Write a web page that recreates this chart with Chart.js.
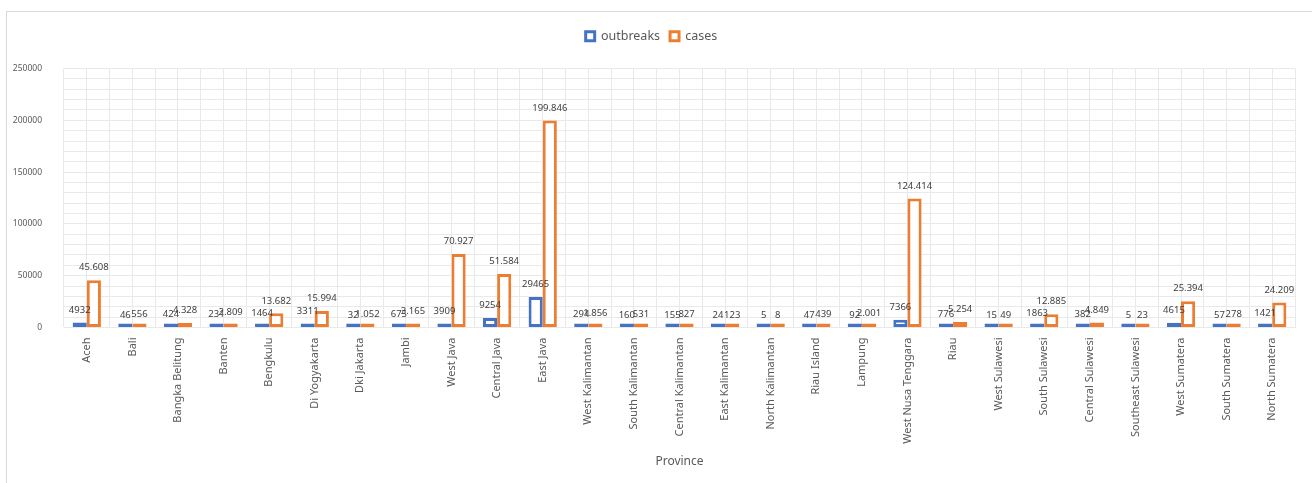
<!DOCTYPE html>
<html>
<head>
<meta charset="utf-8">
<script src="https://cdn.jsdelivr.net/npm/chart.js@4.4.1/dist/chart.umd.min.js"></script>
<style>
  body { margin: 0; background: #fff; }
  #frame { position: absolute; left: 6px; top: 11px; width: 1320px; height: 490px; border: 1px solid #d9d9d9; }
  #wrap { position: absolute; left: 0; top: 0; width: 1312px; height: 483px; }
</style>
</head>
<body>
<div id="frame"></div>
<div id="wrap"><canvas id="barChart" width="1312" height="483"></canvas></div>
<script>
var provinces = ["Aceh", "Bali", "Bangka Belitung", "Banten", "Bengkulu", "Di Yogyakarta", "Dki Jakarta", "Jambi",
    "West Java", "Central Java", "East Java", "West Kalimantan", "South Kalimantan", "Central Kalimantan",
    "East Kalimantan", "North Kalimantan", "Riau Island", "Lampung", "West Nusa Tenggara", "Riau",
    "West Sulawesi", "South Sulawesi", "Central Sulawesi", "Southeast Sulawesi", "West Sumatera",
    "South Sumatera", "North Sumatera"];
var outbreaks = [4932, 46, 424, 231, 1464, 3311, 32, 675, 3909, 9254, 29465, 294, 160, 155, 24, 5, 47, 92,
    7366, 776, 15, 1863, 382, 5, 4615, 57, 1421];
var cases = [45608, 556, 4328, 2809, 13682, 15994, 1052, 3165, 70927, 51584, 199846, 1856, 531, 827, 123, 8,
    439, 2001, 124414, 5254, 49, 12885, 4849, 23, 25394, 278, 24209];
var yTicks = [0, 50000, 100000, 150000, 200000, 250000];

function fmtCases(v) {
    return v >= 1000 ? String(v).replace(/\B(?=(\d{3})+(?!\d))/g, '.') : String(v);
}

var gridColor = '#e9e9e9';
var textColor = '#595959';

// numbers above the bars, like excel data labels
var valueLabels = {
    id: 'valueLabels',
    afterDatasetsDraw: function (chart) {
        var ctx = chart.ctx;
        var yScale = chart.scales.y;
        ctx.save();
        ctx.font = '9.5px "Noto Sans"';
        ctx.fillStyle = '#404040';
        ctx.textAlign = 'center';
        ctx.textBaseline = 'middle';
        chart.data.datasets.forEach(function (ds, i) {
            var meta = chart.getDatasetMeta(i);
            meta.data.forEach(function (bar, j) {
                var v = ds.data[j];
                var txt = i === 1 ? fmtCases(v) : String(v);
                ctx.fillText(txt, bar.x, yScale.getPixelForValue(v) - 12.5);
            });
        });
        ctx.restore();
    }
};

// extra room under the legend
var legendGap = {
    id: 'legendGap',
    beforeInit: function (chart) {
        var origFit = chart.legend.fit;
        chart.legend.fit = function () {
            origFit.bind(chart.legend)();
            this.height += 16;
        };
    }
};

window.onload = function () {
    var ctx = document.getElementById('barChart').getContext('2d');
    var myChart = new Chart(ctx, {
        type: 'bar',
        data: {
            labels: provinces,
            datasets: [{
                label: 'outbreaks',
                data: outbreaks,
                backgroundColor: '#ffffff',
                borderColor: '#4472C4',
                borderWidth: 3,
                borderSkipped: false,
                minBarLength: 4,
                categoryPercentage: 0.62,
                barPercentage: 1
            }, {
                label: 'cases',
                data: cases,
                backgroundColor: '#ffffff',
                borderColor: '#ED7D31',
                borderWidth: 3,
                borderSkipped: false,
                minBarLength: 4,
                categoryPercentage: 0.62,
                barPercentage: 1
            }]
        },
        options: {
            responsive: false,
            animation: false,
            layout: { padding: { left: 8, right: 17, top: 20, bottom: 0 } },
            plugins: {
                legend: {
                    labels: {
                        boxWidth: 9,
                        boxHeight: 9,
                        padding: 10,
                        color: textColor,
                        font: { family: '"Noto Sans"', size: 12.5 }
                    }
                },
                tooltip: { enabled: false }
            },
            scales: {
                x: {
                    offset: true,
                    grid: { color: gridColor, offset: true, drawTicks: false },
                    border: { color: gridColor },
                    ticks: {
                        color: textColor,
                        font: { family: '"Noto Sans"', size: 11 },
                        minRotation: 90,
                        maxRotation: 90,
                        autoSkip: false,
                        padding: 10
                    },
                    title: {
                        display: true,
                        text: 'Province',
                        color: textColor,
                        font: { family: '"Noto Sans"', size: 12 },
                        padding: { top: 0, bottom: 14 }
                    },
                    afterFit: function (scale) { scale.height = 155.5; }
                },
                x2: {
                    type: 'category',
                    position: 'bottom',
                    offset: true,
                    grid: { color: gridColor, offset: false, drawTicks: false },
                    border: { display: false },
                    ticks: { display: false },
                    afterFit: function (scale) { scale.height = 0; }
                },
                y: {
                    min: 0,
                    max: 250000,
                    grid: { color: gridColor, drawTicks: false },
                    border: { display: false },
                    ticks: {
                        stepSize: 10000,
                        autoSkip: false,
                        color: textColor,
                        font: { family: '"Noto Sans"', size: 8.5 },
                        padding: 22,
                        callback: function (value) {
                            return yTicks.indexOf(value) >= 0 ? String(value) : '';
                        }
                    },
                    afterFit: function (scale) { scale.width = 56; }
                }
            }
        },
        plugins: [valueLabels, legendGap]
    });
};
</script>
</body>
</html>
